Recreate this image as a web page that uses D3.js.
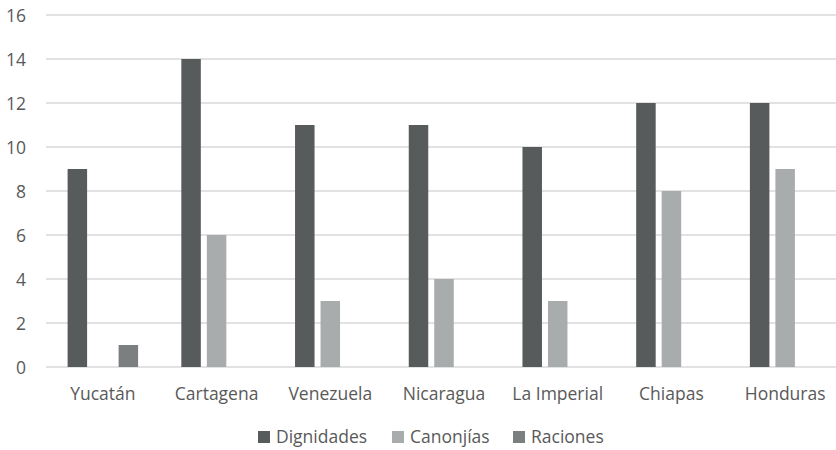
<!DOCTYPE html>
<html>
<head>
<meta charset="utf-8">
<script src="https://cdn.jsdelivr.net/npm/d3@7"></script>
<style>
  html, body { margin: 0; padding: 0; background: #fff; overflow: hidden; }
  svg { display: block; font-family: "Open Sans", sans-serif; }
</style>
</head>
<body>
<svg id="chart" width="836" height="450"></svg>
<script>
// Cathedral chapter posts by diocese
const categories = ["Yucatán", "Cartagena", "Venezuela", "Nicaragua", "La Imperial", "Chiapas", "Honduras"];
const seriesNames = ["Dignidades", "Canonjías", "Raciones"];
const dignidades = [9, 14, 11, 11, 10, 12, 12];
const canonjias  = [0, 6, 3, 4, 3, 8, 9];
const raciones   = [1, 0, 0, 0, 0, 0, 0];
const yTicks = [0, 2, 4, 6, 8, 10, 12, 14, 16];
const colors = ["#575b5b", "#a9acad", "#7b7f7f"];

const seriesValues = [dignidades, canonjias, raciones];

const svg = d3.select("#chart");
const textColor = "#595959";
const fontSize = 17.5;

const plot = { left: 46, right: 842, top: 15, bottom: 367 };

const x = d3.scaleBand().domain(categories).range([plot.left, plot.right]).padding(0);
const y = d3.scaleLinear().domain([0, 16]).range([plot.bottom, plot.top]);

// inner positions for the three bars of each group
const step = x.bandwidth();
const barW = 19.5, barStep = 25.5;
const groupW = barStep * 2 + barW;
const inner = d3.scaleOrdinal().domain(seriesNames)
  .range(seriesNames.map((_, i) => (step - groupW) / 2 + i * barStep));

// gridlines
svg.append("g")
  .selectAll("line")
  .data(yTicks)
  .join("line")
  .attr("x1", plot.left).attr("x2", plot.right)
  .attr("y1", d => y(d)).attr("y2", d => y(d))
  .attr("stroke", "#d9d9d9").attr("stroke-width", 1.3);

// y axis labels
const yAxis = d3.axisLeft(y).tickValues(yTicks).tickSize(0).tickPadding(0);
const gy = svg.append("g").attr("transform", "translate(26,0)").call(yAxis);
gy.select(".domain").remove();
gy.selectAll("text")
  .attr("font-size", fontSize).attr("font-family", "Open Sans, sans-serif")
  .attr("fill", textColor).attr("dy", "0.36em");

// bars
const groups = svg.append("g")
  .selectAll("g")
  .data(categories)
  .join("g")
  .attr("transform", d => `translate(${x(d)},0)`);

groups.selectAll("rect")
  .data((c, ci) => seriesNames.map((s, si) => ({ s, si, v: seriesValues[si][ci] })).filter(d => d.v > 0))
  .join("rect")
  .attr("x", d => inner(d.s))
  .attr("width", barW)
  .attr("y", d => y(d.v))
  .attr("height", d => y(0) - y(d.v))
  .attr("fill", d => colors[d.si]);

// category labels
const xAxis = d3.axisBottom(x).tickSize(0).tickPadding(0);
const gx = svg.append("g").attr("transform", `translate(0,${plot.bottom})`).call(xAxis);
gx.select(".domain").remove();
gx.selectAll("text")
  .attr("font-size", fontSize).attr("font-family", "Open Sans, sans-serif")
  .attr("fill", textColor).attr("y", 33).attr("dy", 0);

// legend
const legendX = [258, 392, 513];
const legend = svg.append("g").selectAll("g")
  .data(seriesNames)
  .join("g")
  .attr("transform", (d, i) => `translate(${legendX[i]},431)`);
legend.append("rect").attr("width", 12).attr("height", 12).attr("fill", (d, i) => colors[i]);
legend.append("text")
  .attr("x", 18).attr("y", 12)
  .attr("font-size", fontSize).attr("fill", textColor)
  .text(d => d);
</script>
</body>
</html>
